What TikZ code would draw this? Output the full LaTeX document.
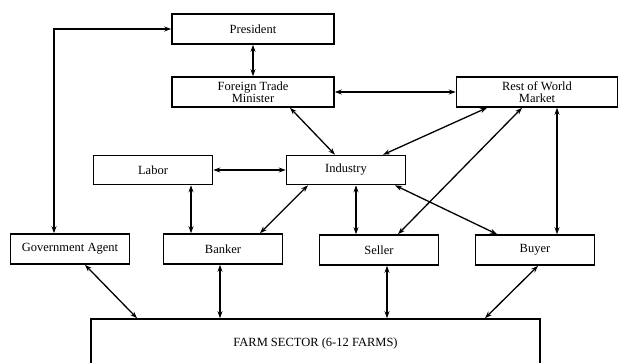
\documentclass[tikz,border=0pt]{standalone}
\usepackage{fontspec}
\setmainfont{Liberation Serif}
\usetikzlibrary{arrows.meta}

\tikzset{
  box/.style={draw,line width=1.6pt,inner sep=0pt,align=center,
    minimum width=119pt,minimum height=30pt,font=\fontsize{12.5}{11.5}\selectfont},
  link/.style={{Stealth[length=7pt,width=5pt]}-{Stealth[length=7pt,width=5pt]},line width=1.3pt}
}

\begin{document}
\begin{tikzpicture}[x=1pt,y=-1pt]
  \useasboundingbox (0,0) rectangle (620,362);
  % boxes
  \node[box,minimum width=162pt] (pres) at (253,29) {President};
  \node[box,minimum width=162pt] (ftm) at (253,92) {Foreign Trade\\Minister};
  \node[box,minimum width=161pt] (row) at (537,92) {Rest of World\\Market};
  \node[box,minimum height=29pt] (labor) at (153,170) {Labor};
  \node[box,minimum height=29pt] (ind) at (346,170) {Industry};
  \node[box] (gov) at (70,249) {Government Agent};
  \node[box] (bank) at (223,249) {Banker};
  \node[box] (sell) at (379,250) {Seller};
  \node[box] (buy) at (535,250) {Buyer};
  \node[box,minimum width=449pt,minimum height=48pt] (farm) at (315.5,343) {FARM SECTOR (6-12 FARMS)};
  % connectors
  \draw[link] ([xshift=-16pt]gov.north) |- (pres.west);
  \draw[link] (pres.south) -- (ftm.north);
  \draw[link] (ftm.east) -- (row.west);
  \draw[link] ([xshift=37pt]ftm.south) -- ([xshift=-11pt]ind.north);
  \draw[link] ([xshift=-50pt]row.south) -- ([xshift=37pt]ind.north);
  \draw[link] ([xshift=-15pt]row.south) -- ([xshift=19pt]sell.north);
  \draw[link] ([xshift=20pt]row.south) -- ([xshift=22pt]buy.north);
  \draw[link] (labor.east) -- (ind.west);
  \draw[link] ([xshift=38pt]labor.south) -- ([xshift=-32pt]bank.north);
  \draw[link] ([xshift=-38pt]ind.south) -- ([xshift=37pt]bank.north);
  \draw[link] ([xshift=10pt]ind.south) -- ([xshift=-23pt]sell.north);
  \draw[link] ([xshift=49pt]ind.south) -- ([xshift=-38pt]buy.north);
  \draw[link] ([xshift=15pt]gov.south) -- ([xshift=-178.5pt]farm.north);
  \draw[link] ([xshift=-3pt]bank.south) -- ([xshift=-95.5pt]farm.north);
  \draw[link] ([xshift=8pt]sell.south) -- ([xshift=71.5pt]farm.north);
  \draw[link] ([xshift=3pt]buy.south) -- ([xshift=169.5pt]farm.north);
\end{tikzpicture}
\end{document}
